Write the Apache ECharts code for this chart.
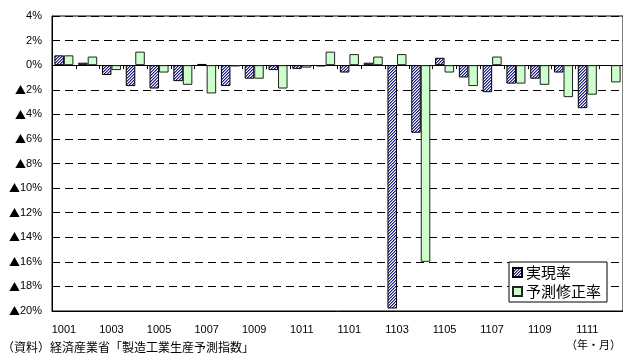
<!DOCTYPE html>
<html>
<head>
<meta charset="utf-8">
<script src="https://cdn.jsdelivr.net/npm/echarts@6/dist/echarts.min.js"></script>
<style>
html,body{margin:0;padding:0;background:#fff;}
#c{width:623px;height:358px;}
</style>
</head>
<body>
<div id="c"></div>
<script>
var categories = ['1001','1002','1003','1004','1005','1006','1007','1008','1009','1010','1011','1012',
                  '1101','1102','1103','1104','1105','1106','1107','1108','1109','1110','1111','1112'];
var actualRate = [0.8, 0.2, -0.8, -1.7, -1.9, -1.3, 0.1, -1.7, -1.1, -0.4, -0.3, -0.1,
                  -0.6, 0.2, -19.8, -5.5, 0.6, -1.0, -2.2, -1.5, -1.1, -0.6, -3.5, null];
var forecastRevision = [0.8, 0.7, -0.4, 1.1, -0.6, -1.6, -2.3, -0.1, -1.1, -1.9, -0.2, 1.1,
                  0.9, 0.7, 0.9, -16.0, -0.6, -1.7, 0.7, -1.5, -1.6, -2.6, -2.4, -1.4];
var seriesNames = ['実現率', '予測修正率'];
var yMin = -20, yMax = 4, yStep = 2;

function hatch() {
  var cv = document.createElement('canvas');
  cv.width = 3; cv.height = 3;
  var ctx = cv.getContext('2d');
  for (var x = 0; x < 3; x++) {
    for (var y = 0; y < 3; y++) {
      var k = (x + y) % 3;
      ctx.fillStyle = k === 0 ? '#1c1c8a' : (k === 1 ? '#8888c4' : '#ffffff');
      ctx.fillRect(x, y, 1, 1);
    }
  }
  return cv;
}

var chart = echarts.init(document.getElementById('c'), null, {renderer: 'canvas'});
var font = "'Liberation Sans', Arial, 'Noto Sans CJK JP', sans-serif";
var cjk = "'Noto Sans CJK JP', 'Liberation Sans', sans-serif";

chart.setOption({
  animation: false,
  backgroundColor: '#ffffff',
  grid: {
    left: 52, right: -1, top: 16, bottom: 47,
    show: true, borderColor: '#000', borderWidth: 1, backgroundColor: 'transparent'
  },
  legend: {
    orient: 'vertical',
    left: 509, top: 262,
    backgroundColor: '#ffffff',
    borderColor: '#000', borderWidth: 1,
    padding: [3, 6, 3, 3],
    itemGap: 4,
    itemWidth: 9, itemHeight: 9,
    icon: 'rect',
    textStyle: {fontSize: 15, color: '#000', fontFamily: cjk, padding: [0, 0, 0, -1]},
    data: seriesNames
  },
  xAxis: [{
    type: 'category',
    data: categories,
    position: 'bottom',
    boundaryGap: true,
    axisLine: {onZero: false, lineStyle: {color: '#000', width: 1}},
    axisTick: {show: false},
    axisLabel: {interval: 1, fontSize: 11, color: '#000', fontFamily: font, margin: 13},
    splitLine: {show: false}
  }, {
    type: 'category',
    data: categories,
    position: 'top',
    boundaryGap: true,
    axisLine: {onZero: true, lineStyle: {color: '#000', width: 1}},
    axisTick: {show: true, inside: true, length: 4, interval: 0, lineStyle: {color: '#000'}},
    axisLabel: {show: false},
    splitLine: {show: false}
  }],
  yAxis: {
    type: 'value',
    min: yMin, max: yMax, interval: yStep,
    axisLine: {show: true, lineStyle: {color: '#000', width: 1}},
    axisTick: {show: false},
    axisLabel: {
      fontSize: 11, color: '#000', fontFamily: font, margin: 10,
      formatter: function (v) { return v < 0 ? '{t|▲}' + (-v) + '%' : v + '%'; },
      rich: {t: {fontFamily: cjk, fontSize: 11, color: '#000'}}
    },
    splitLine: {show: true, lineStyle: {color: '#000', type: [8, 5], width: 1}}
  },
  series: [{
    name: seriesNames[0],
    type: 'bar',
    xAxisIndex: 0,
    data: actualRate,
    barGap: '0%',
    barCategoryGap: '20%',
    itemStyle: {color: {image: hatch(), repeat: 'repeat'}, borderColor: '#000', borderWidth: 1}
  }, {
    name: seriesNames[1],
    type: 'bar',
    xAxisIndex: 0,
    data: forecastRevision,
    barGap: '0%',
    barCategoryGap: '20%',
    itemStyle: {color: '#ccffcc', borderColor: '#222', borderWidth: 1}
  }],
  graphic: [{
    type: 'text', left: 2, top: 341,
    style: {text: '（資料）経済産業省「製造工業生産予測指数」', fontSize: 12, fill: '#000', fontFamily: cjk}
  }, {
    type: 'text', right: 2, top: 339,
    style: {text: '（年・月）', fontSize: 11, fill: '#000', fontFamily: cjk}
  }]
});
</script>
</body>
</html>
